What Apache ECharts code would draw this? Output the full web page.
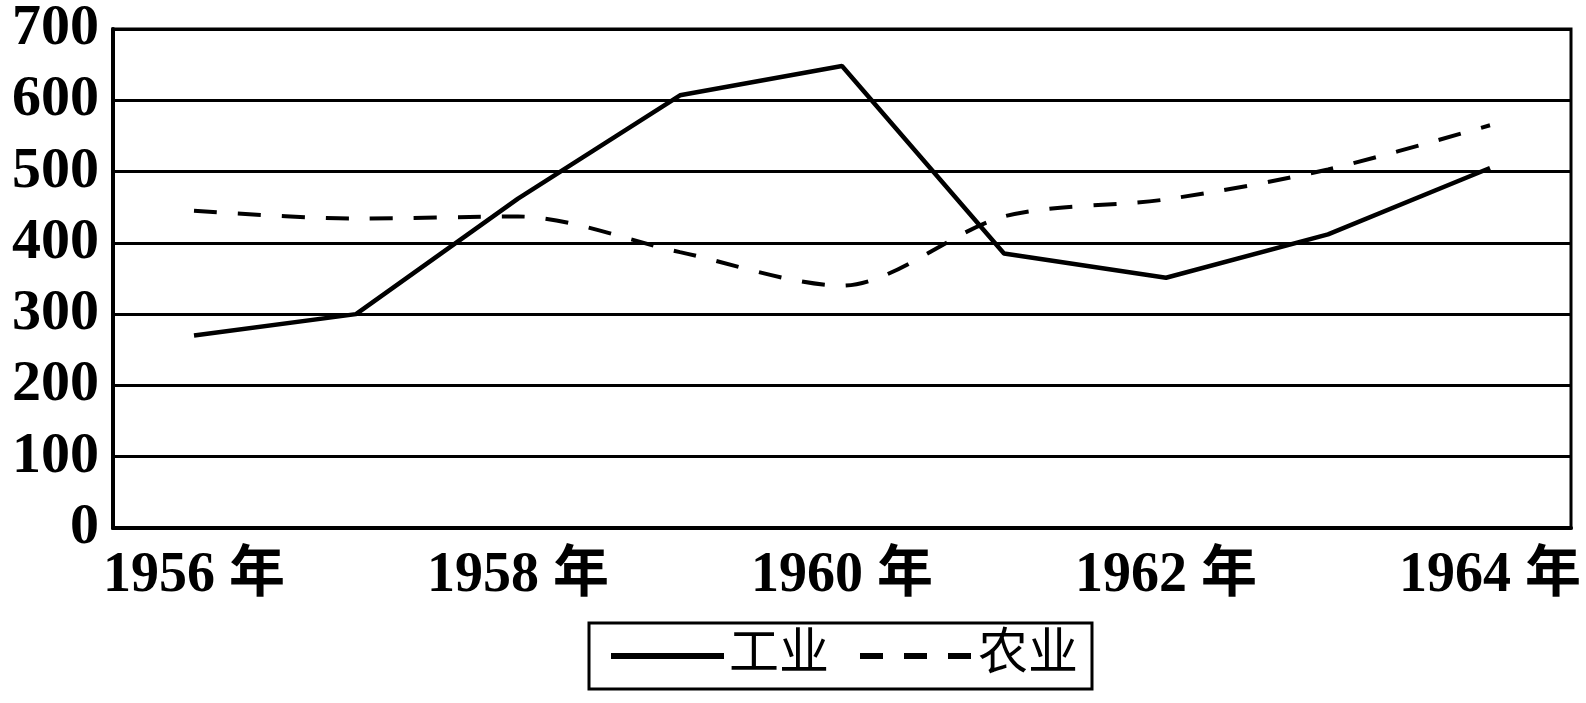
<!DOCTYPE html>
<html>
<head>
<meta charset="utf-8">
<script src="https://cdn.jsdelivr.net/npm/echarts@6/dist/echarts.min.js"></script>
<style>
  html, body { margin: 0; padding: 0; background: #fff; }
  #chart { width: 1586px; height: 703px; }
</style>
</head>
<body>
<div id="chart"></div>
<script>
var years = ['1956', '1957', '1958', '1959', '1960', '1961', '1962', '1963', '1964'];
var industry = [270, 300, 462, 607, 648, 385, 351, 412, 505];   // 工业
var agriculture = [445, 434, 437, 387, 340, 437, 461, 503, 565]; // 农业
var yTicks = [0, 100, 200, 300, 400, 500, 600, 700];

var serif = "'Liberation Serif', 'Noto Sans CJK SC', serif";

echarts.init(document.getElementById('chart')).setOption({
  animation: false,
  backgroundColor: '#fff',
  grid: {
    show: true,
    left: 113,
    right: 15,
    top: 25,
    bottom: 175,
    borderColor: '#000',
    borderWidth: 3
  },
  legend: {
    left: 589,
    top: 623,
    orient: 'horizontal',
    padding: [8, 14, 8, 19],
    borderColor: '#000',
    borderWidth: 3,
    itemWidth: 113,
    itemHeight: 20,
    itemGap: 28,
    itemStyle: { opacity: 0 },
    lineStyle: { width: 6 },
    textStyle: { fontFamily: serif, fontSize: 50, color: '#000' },
    data: ['工业', '农业']
  },
  xAxis: {
    type: 'category',
    data: years,
    boundaryGap: true,
    axisLine: { lineStyle: { color: '#000', width: 4 } },
    axisTick: { inside: true, length: 18, interval: 0, lineStyle: { color: '#000', width: 3 } },
    axisLabel: {
      interval: 1,
      margin: 21,
      color: '#000',
      fontFamily: serif,
      fontWeight: 'bold',
      fontSize: 56,
      formatter: function(v) { return v + ' 年'; }
    }
  },
  yAxis: {
    type: 'value',
    min: yTicks[0],
    max: yTicks[yTicks.length - 1],
    interval: 100,
    axisLine: { show: true, lineStyle: { color: '#000', width: 4 } },
    axisTick: { show: false },
    splitLine: { lineStyle: { color: '#000', width: 3 } },
    axisLabel: {
      margin: 14,
      color: '#000',
      fontFamily: serif,
      fontWeight: 'bold',
      fontSize: 58
    }
  },
  series: [{
    name: '工业',
    type: 'line',
    symbol: 'none',
    data: industry,
    lineStyle: { color: '#000', width: 4.5 },
    itemStyle: { color: '#000' }
  }, {
    name: '农业',
    type: 'line',
    symbol: 'none',
    smooth: 0.3,
    data: agriculture,
    lineStyle: { color: '#000', width: 4, type: [23, 21] },
    itemStyle: { color: '#000' }
  }]
});
</script>
</body>
</html>
